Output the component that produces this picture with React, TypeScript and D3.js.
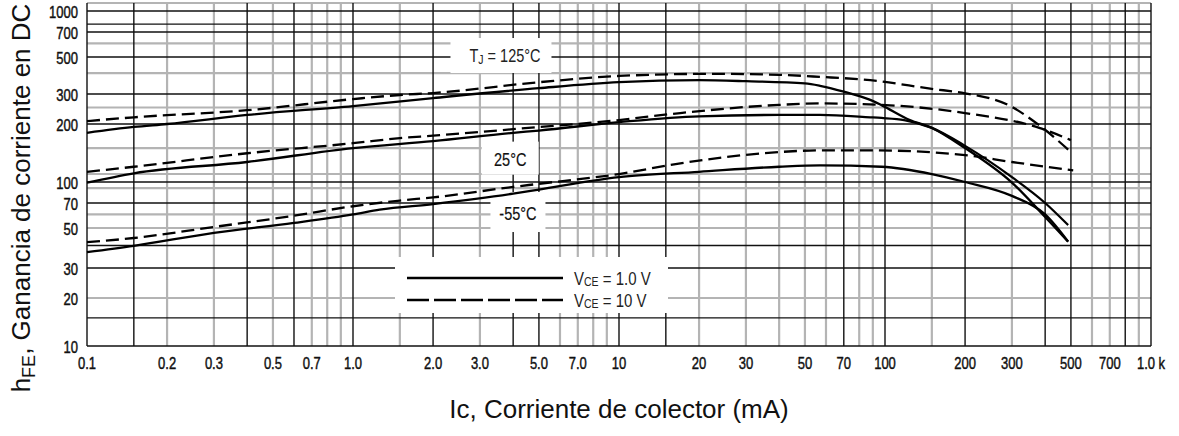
import React, { useEffect, useRef } from 'react';
import * as d3 from 'd3';

// eje X: corriente de colector (mA)
const currentTicks = [0.1, 0.2, 0.3, 0.5, 0.7, 1, 2, 3, 5, 7, 10, 20, 30, 50, 70, 100, 200, 300, 500, 700, 1000];
const currentTickLabels = ['0.1', '0.2', '0.3', '0.5', '0.7', '1.0', '2.0', '3.0', '5.0', '7.0', '10', '20', '30', '50', '70', '100', '200', '300', '500', '700', '1.0 k'];
const currentGridDark = [0.1, 0.15, 0.4, 0.6, 1, 2, 4, 5, 10, 15, 70, 100, 200, 400, 500, 800, 1000];
const currentGridLight = [0.2, 0.3, 0.5, 0.7, 0.8, 0.9, 1.5, 3, 6, 7, 8, 9, 20, 30, 40, 50, 60, 80, 90, 150, 300, 600, 700, 900];

// eje Y: hFE
const gainTicks = [10, 20, 30, 50, 70, 100, 200, 300, 500, 700, 1000];
const gainGridDark = [10, 15, 30, 40, 70, 100, 200, 300, 500, 700, 800, 1000];
const gainGridLight = [20, 50, 60, 90, 110, 150, 250, 400, 600, 1200];

// curvas [Ic (mA), hFE]
const solid125: [number, number][] = [[0.1, 180], [0.15, 193], [0.2, 200], [0.4, 226], [1, 255], [2, 284], [5, 325], [10, 353], [20, 363], [30, 358], [50, 347], [57, 336], [70, 310], [88, 277], [97, 258], [124, 211], [150, 191], [200, 150], [300, 99], [400, 58], [488, 42]];
const solid25: [number, number][] = [[0.1, 99], [0.15, 111], [0.4, 127], [1, 150], [2, 163], [4, 180], [5, 185], [10, 205], [20, 222], [40, 226], [57, 226], [88, 219], [97, 217], [118, 211], [150, 191], [200, 154], [300, 106], [400, 70], [488, 52]];
const solid55: [number, number][] = [[0.1, 36.7], [0.15, 39.8], [0.3, 47], [0.6, 53.5], [1, 60], [1.26, 64], [2, 69], [4, 82], [5, 88], [10, 106], [20, 113], [40, 120], [57, 122], [97, 120], [150, 110], [200, 100], [300, 79], [400, 60], [488, 42]];
const dashed125: [number, number][] = [[0.1, 208], [0.15, 219], [0.4, 241], [1, 280], [1.5, 296], [2, 304], [5, 353], [10, 385], [22, 396], [40, 391], [57, 380], [88, 363], [150, 322], [200, 303], [290, 259], [380, 197], [500, 143]];
const dashed25: [number, number][] = [[0.1, 113], [0.15, 120], [0.4, 141], [1, 159], [1.5, 169], [2, 174], [4, 188], [10, 211], [17, 232], [40, 259], [57, 264], [97, 259], [200, 232], [380, 191], [500, 165]];
const dashed55: [number, number][] = [[0.1, 41.7], [0.15, 44], [0.3, 50.7], [0.6, 59], [1, 67], [1.5, 73], [2, 77], [4, 92], [5, 97], [10, 110], [17, 125], [40, 143], [57, 146], [88, 146], [200, 138], [300, 127], [510, 115]];

const FONT = '"Liberation Sans", Arial, Helvetica, sans-serif';

const App = () => {
  const ref = useRef<SVGSVGElement>(null);

  useEffect(() => {
    const svg = d3.select(ref.current);
    svg.selectAll('*').remove();

    const x = d3.scaleLog().domain([0.1, 1000]).range([87, 1151]);
    // la escala vertical del original no es uniforme: log por tramos
    const y = d3
      .scaleLog()
      .domain([10, 20, 30, 50, 70, 100, 200, 300, 500, 700, 1000, 1200])
      .range([346, 298, 268, 228, 203, 182, 124, 94, 57, 32, 11, 3]);

    const x0 = x(0.1), x1 = x(1000), y0 = y(10), y1 = y(1200);
    const g = svg.append('g');

    // rejilla clara
    g.append('g')
      .selectAll('line')
      .data(currentGridLight)
      .join('line')
      .attr('x1', (d) => x(d)).attr('x2', (d) => x(d))
      .attr('y1', y1).attr('y2', y0)
      .attr('stroke', '#b4b4b4').attr('stroke-width', 2.2);
    g.append('g')
      .selectAll('line')
      .data(gainGridLight)
      .join('line')
      .attr('y1', (d) => y(d)).attr('y2', (d) => y(d))
      .attr('x1', x0).attr('x2', x1)
      .attr('stroke', '#b4b4b4').attr('stroke-width', 2.2);

    // rejilla oscura
    g.append('g')
      .selectAll('line')
      .data(currentGridDark)
      .join('line')
      .attr('x1', (d) => x(d)).attr('x2', (d) => x(d))
      .attr('y1', y1).attr('y2', y0)
      .attr('stroke', '#111').attr('stroke-width', 1.4);
    g.append('g')
      .selectAll('line')
      .data(gainGridDark)
      .join('line')
      .attr('y1', (d) => y(d)).attr('y2', (d) => y(d))
      .attr('x1', x0).attr('x2', x1)
      .attr('stroke', '#111').attr('stroke-width', 1.4);

    const stretched = (sel, px, py, txt, anchor, size) =>
      sel.append('text')
        .attr('transform', `translate(${px},${py}) scale(1,1.3)`)
        .attr('text-anchor', anchor)
        .attr('dominant-baseline', 'central')
        .attr('font-family', FONT)
        .attr('font-size', size)
        .attr('fill', '#111')
        .attr('stroke', '#111')
        .attr('stroke-width', 0.35)
        .text(txt);

    // etiquetas de ejes
    currentTicks.forEach((v, i) => stretched(g, x(v), 363, currentTickLabels[i], 'middle', 13));
    gainTicks.forEach((v) => stretched(g, 78, y(v) + 1, String(v), 'end', 13));

    // anotaciones de temperatura
    const notes = [
      { ic: 3.6, h: 510, w: 101, hgt: 35, label: 'TJ' },
      { ic: 3.9, h: 133, w: 57, hgt: 33, label: '25°C' },
      { ic: 4.17, h: 62, w: 55, hgt: 40, label: '-55°C' },
    ];
    notes.forEach((n) => {
      const cx = x(n.ic), cy = y(n.h);
      g.append('rect')
        .attr('x', cx - n.w / 2).attr('y', cy - n.hgt / 2)
        .attr('width', n.w).attr('height', n.hgt)
        .attr('fill', '#fff');
      if (n.label === 'TJ') {
        const t = g.append('text')
          .attr('transform', `translate(${cx + 4},${cy}) scale(1,1.25)`)
          .attr('text-anchor', 'middle')
          .attr('dominant-baseline', 'central')
          .attr('font-family', FONT).attr('font-size', 14.5).attr('fill', '#222');
        t.append('tspan').text('T');
        t.append('tspan').attr('font-size', 10.5).attr('dy', 3).text('J');
        t.append('tspan').attr('dy', -3).text(' = 125°C');
      } else {
        stretched(g, cx, cy + 2, n.label, 'middle', 14.5).attr('stroke-width', 0.15);
      }
    });

    // leyenda
    const lg = g.append('g');
    lg.append('rect').attr('x', 395).attr('y', 257).attr('width', 273).attr('height', 56).attr('fill', '#fff');
    lg.append('line').attr('x1', 407).attr('x2', 563).attr('y1', 278).attr('y2', 278)
      .attr('stroke', '#000').attr('stroke-width', 2.4);
    lg.append('line').attr('x1', 407).attr('x2', 563).attr('y1', 300).attr('y2', 300)
      .attr('stroke', '#000').attr('stroke-width', 2.4).attr('stroke-dasharray', '22 5');
    [['1.0 V', 278], ['10 V', 300]].forEach(([v, py]) => {
      const t = lg.append('text')
        .attr('transform', `translate(574,${py}) scale(1,1.25)`)
        .attr('dominant-baseline', 'central')
        .attr('font-family', FONT).attr('font-size', 15).attr('fill', '#222');
      t.append('tspan').text('V');
      t.append('tspan').attr('font-size', 10.5).attr('dy', 3).text('CE');
      t.append('tspan').attr('dy', -3).text(` = ${v}`);
    });

    // curvas
    const line = d3
      .line<[number, number]>()
      .x((d) => x(d[0]))
      .y((d) => y(d[1]))
      .curve(d3.curveMonotoneX);

    const series = [
      { data: solid125, dash: null },
      { data: solid25, dash: null },
      { data: solid55, dash: null },
      { data: dashed125, dash: '13 6' },
      { data: dashed25, dash: '13 6' },
      { data: dashed55, dash: '13 6' },
    ];
    g.append('g')
      .selectAll('path')
      .data(series)
      .join('path')
      .attr('d', (d) => line(d.data))
      .attr('fill', 'none')
      .attr('stroke', '#000')
      .attr('stroke-width', 2.3)
      .attr('stroke-dasharray', (d) => d.dash);

    // títulos
    svg.append('text')
      .attr('x', (x0 + x1) / 2).attr('y', 418)
      .attr('text-anchor', 'middle')
      .attr('font-family', FONT).attr('font-size', 26).attr('fill', '#111')
      .text('Ic, Corriente de colector (mA)');

    const yt = svg.append('text')
      .attr('transform', 'translate(30,198) rotate(-90)')
      .attr('text-anchor', 'middle')
      .attr('font-family', FONT).attr('font-size', 26).attr('fill', '#111');
    yt.append('tspan').text('h');
    yt.append('tspan').attr('font-size', 18).attr('dy', 5).text('FE');
    yt.append('tspan').attr('dy', -5).text(', Ganancia de corriente en DC');
  }, []);

  return (
    <svg
      ref={ref}
      width={1179}
      height={436}
      style={{ position: 'absolute', left: 0, top: 0, background: '#fff' }}
    />
  );
};

export default App;
